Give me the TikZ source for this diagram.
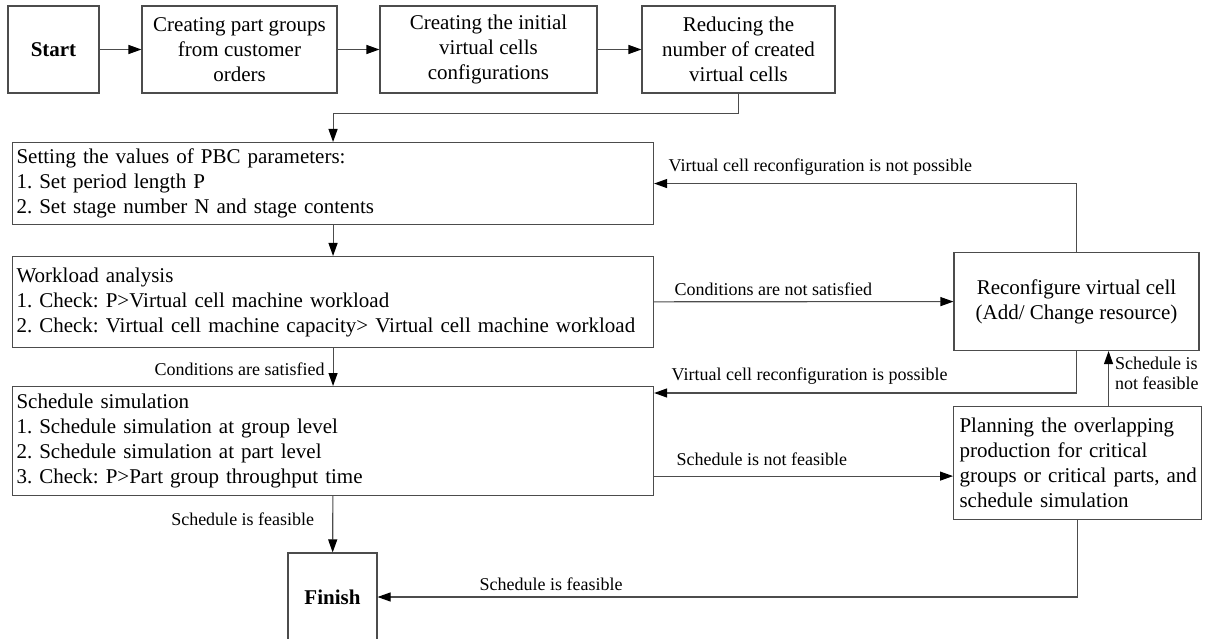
\documentclass[tikz,border=0pt]{standalone}
\usepackage{fontspec}
\setmainfont{Liberation Serif}
\usetikzlibrary{arrows.meta}
\definecolor{linegray}{gray}{0.3}

\begin{document}
\frenchspacing
\begin{tikzpicture}[x=1pt, y=-1pt,
    box/.style={draw=linegray, line width=1.1pt, inner sep=3pt, font=\fontsize{21}{25}\selectfont},
    wide/.style={box, anchor=north west, text width=633pt, inner xsep=4pt, align=left},
    lbl/.style={inner sep=2pt, font=\fontsize{18}{21}\selectfont},
    flow/.style={draw=linegray, line width=1.1pt, -{Triangle[length=13pt, width=9pt, color=black]}}]
    \useasboundingbox (0,0) rectangle (1208,639);

    % top row
    \node[box, minimum width=91pt, minimum height=87pt, font=\fontsize{21}{25}\selectfont\bfseries] (start) at (53.5,49.5) {Start};
    \node[box, minimum width=195pt, minimum height=87pt, align=center] (groups) at (239.5,49.5) {Creating part groups\\from customer\\orders};
    \node[box, minimum width=217pt, minimum height=87pt, align=center] (initial) at (488.5,49.5) {Creating the initial\\virtual cells\\configurations};
    \node[box, minimum width=193pt, minimum height=87pt, align=center] (reduce) at (738.5,49.5) {Reducing the\\number of created\\virtual cells};

    % main column
    \node[wide, minimum height=82pt] (pbc) at (12,142) {Setting the values of PBC parameters:\\1. Set period length P\\2. Set stage number N and stage contents};
    \node[wide, minimum height=91pt] (workload) at (12,256) {Workload analysis\\1. Check: P>Virtual cell machine workload\\2. Check: Virtual cell machine capacity> Virtual cell machine workload};
    \node[wide, minimum height=109pt] (sched) at (12,386) {Schedule simulation\\1. Schedule simulation at group level\\2. Schedule simulation at part level\\3. Check: P>Part group throughput time};
    \node[box, minimum width=89pt, minimum height=88pt, font=\fontsize{21}{25}\selectfont\bfseries] (finish) at (332.5,597) {Finish};

    % right column
    \node[box, minimum width=245pt, minimum height=98pt, align=center] (reconf) at (1076.5,301.5) {Reconfigure virtual cell\\(Add/ Change resource)};
    \node[box, anchor=north west, text width=244pt, inner xsep=2pt, minimum height=113pt, align=left] (plan) at (953,406) {\hspace*{4pt}Planning the overlapping\\\hspace*{4pt}production for critical\\\hspace*{4pt}groups or critical parts, and\\\hspace*{4pt}schedule simulation};

    \coordinate (possible) at ([yshift=-7pt]sched.north east);
    \coordinate (nofeas) at ([yshift=20pt]sched.south east);
    \coordinate (replan) at ([xshift=31pt]plan.north);

    \draw[flow] (start) -- (groups);
    \draw[flow] (groups) -- (initial);
    \draw[flow] (initial) -- (reduce);
    \draw[flow] (reduce.south) -- ++(0,20) -| (pbc.north);
    \draw[flow] (pbc) -- (workload);
    \draw[flow] (workload) -- node[lbl, left, pos=0.56, xshift=-6pt] {Conditions are satisfied} (sched);
    \draw[flow] (sched) -- node[lbl, left, midway, xshift=-16pt, yshift=5pt] {Schedule is feasible} (finish);
    \draw[flow] (workload) -- node[lbl, above right, pos=0, xshift=18pt, yshift=4pt] {Conditions are not satisfied} (reconf);
    \draw[flow] (reconf.north) |- node[lbl, above right, pos=1, xshift=12pt, yshift=6pt] {Virtual cell reconfiguration is not possible} (pbc.east);
    \draw[flow] (reconf.south) |- node[lbl, above right, pos=1, xshift=15pt, yshift=6pt] {Virtual cell reconfiguration is possible} (possible);
    \draw[flow] (nofeas) -- node[lbl, above right, pos=0, xshift=20pt, yshift=8pt] {Schedule is not feasible} (nofeas -| plan.west);
    \draw[flow] (replan) -- node[lbl, right, midway, align=left, xshift=4pt, yshift=5pt, font=\fontsize{18}{20}\selectfont] {Schedule is\\not feasible} (replan |- reconf.south);
    \draw[flow] (plan.south) |- node[lbl, above, pos=0.876, yshift=4pt] {Schedule is feasible} (finish.east);
\end{tikzpicture}
\end{document}
